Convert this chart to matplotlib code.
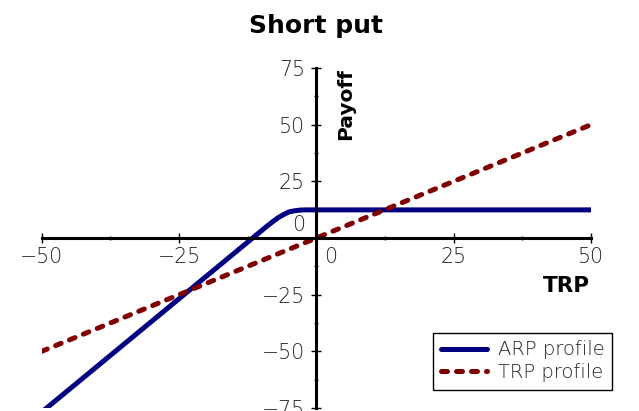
import numpy as np
import matplotlib.pyplot as plt

# values
trp = [-50, 50]
trp_payoff = [-50, 50]

arp_x = [-50, -40, -30, -20, -11.6, -9, -8, -7, -6, -5, -4, -3, -2, 0, 25, 50]
arp_payoff = [-76.8, -56.8, -36.8, -16.8, 0, 5.2, 7.1, 8.9, 10.3, 11.5, 12.0, 12.3, 12.4, 12.4, 12.4, 12.4]

x_ticks = [-50, -25, 0, 25, 50]
x_labels = ['\u221250', '\u221225', '', '25', '50']
y_ticks = [-75, -50, -25, 0, 25, 50, 75]
y_labels = ['\u221275', '\u221250', '\u221225', '', '25', '50', '75']

navy = '#000080'
darkred = '#800000'
txt = '#222222'

fig = plt.figure(figsize=(6.39, 4.11), dpi=100)
ax = fig.add_axes([0.0653, 0.0073, 0.8597, 0.8273])

ax.plot(arp_x, arp_payoff, color=navy, lw=3.6, solid_capstyle='round',
        label='ARP profile')
ax.plot(trp, trp_payoff, color=darkred, lw=3.6, dashes=(1.2, 1.8),
        dash_capstyle='round', label='TRP profile')

ax.set_xlim(-50, 50)
ax.set_ylim(-75, 75)

for s in ['top', 'right']:
    ax.spines[s].set_visible(False)
for s in ['left', 'bottom']:
    ax.spines[s].set_position('zero')
    ax.spines[s].set_linewidth(2.2)

ax.set_xticks(x_ticks)
ax.set_xticklabels(x_labels)
ax.set_yticks(y_ticks)
ax.set_yticklabels(y_labels)
ax.set_xticks(np.arange(-37.5, 50, 25), minor=True)
ax.set_yticks(np.arange(-62.5, 75, 25), minor=True)
ax.tick_params(which='major', direction='inout', length=6.5, width=1)
ax.tick_params(which='minor', direction='inout', length=3.2, width=1)
ax.tick_params(axis='x', which='major', pad=3)
ax.tick_params(axis='y', which='major', pad=5)
for lab in ax.get_xticklabels() + ax.get_yticklabels():
    lab.set_fontsize(14.8)
    lab.set_fontweight('light')
    lab.set_color(txt)

# zero labels sit off the crossing point
ax.annotate('0', xy=(0, 0), xytext=(10.4, -13.7), textcoords='offset points',
            ha='center', va='center', fontsize=14.8, fontweight='light', color=txt)
ax.annotate('0', xy=(0, 0), xytext=(-12.6, 9.4), textcoords='offset points',
            ha='center', va='center', fontsize=14.8, fontweight='light', color=txt)

fig.text(316 / 639, 1 - 33 / 411, 'Short put', ha='center', va='baseline',
         fontsize=18, fontweight='bold')
fig.text(336 / 639, 1 - 140 / 411, 'Payoff', rotation=90, ha='left', va='bottom',
         fontsize=14.5, fontweight='bold')
fig.text(590 / 639, 1 - 292 / 411, 'TRP', ha='right', va='baseline',
         fontsize=15.5, fontweight='bold')

leg = ax.legend(loc='lower left', bbox_to_anchor=(433 / 639, 1 - 390 / 411),
                bbox_transform=fig.transFigure, borderaxespad=0,
                fontsize=14, handlelength=2.37, handletextpad=0.57,
                borderpad=0.4, labelspacing=0.2, fancybox=False,
                framealpha=1, edgecolor='black')
leg.get_frame().set_linewidth(1)
for t in leg.get_texts():
    t.set_color(txt)
    t.set_fontweight('light')

fig.savefig('out.png', dpi=100)
